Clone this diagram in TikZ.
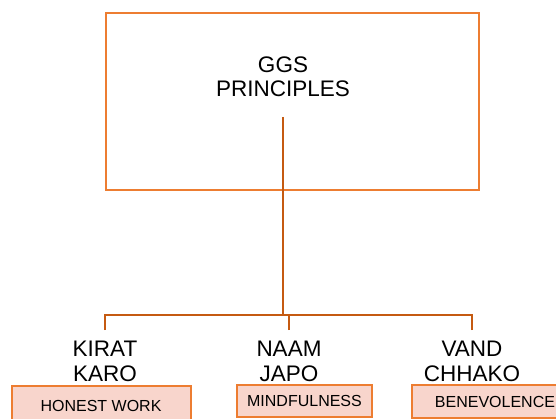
\documentclass[tikz,border=0pt]{standalone}
\usepackage{fontspec}
\setmainfont{Liberation Sans}
\usetikzlibrary{positioning}
\definecolor{boxorange}{HTML}{ED7D31}
\definecolor{linkbrown}{HTML}{C55A11}
\definecolor{notefill}{HTML}{F8D5CC}

\begin{document}
\begin{tikzpicture}[x=1pt, y=-1pt,
          rootbox/.style={rectangle, draw=boxorange, line width=2pt, minimum width=373pt, minimum height=177pt},
          bigtext/.style={inner sep=0pt, align=center, font=\fontsize{22.5}{24.5}\selectfont},
          pillar/.style={bigtext, inner ysep=11pt, anchor=north},
          notebox/.style={rectangle, draw=boxorange, fill=notefill, line width=2pt, font=\fontsize{16}{18}\selectfont},
          link/.style={draw=linkbrown, line width=2.7pt}]
        \clip (0,0) rectangle (556,419);
        \node [rootbox] (ggs) at (292.5,101.5) {};
        \node [bigtext, anchor=north] (title) at (283,56.5) {GGS\\PRINCIPLES};
        \coordinate (stem) at (283,117);
        \coordinate (hub) at (283,315);

        \node [pillar] (kirat) at (105,330) {KIRAT\\KARO};
        \node [pillar] (naam) at (289,330) {NAAM\\JAPO};
        \node [pillar] (vand) at (472,330) {VAND\\CHHAKO};

        \node [notebox, minimum width=179pt, minimum height=40pt] (honest) at (101,406) {HONEST WORK};
        \node [notebox, minimum width=135pt, minimum height=32pt] (mind) at (304.5,401) {MINDFULNESS};
        \node [notebox, minimum width=166pt, minimum height=33pt] (bene) at (495,401.5) {BENEVOLENCE};

        \draw [link] (stem) -- (hub);
        \draw [link] (kirat.north) |- (hub);
        \draw [link] (vand.north) |- (hub);
        \draw [link] (naam.north) -- (naam.north |- hub);
      \end{tikzpicture}
\end{document}
